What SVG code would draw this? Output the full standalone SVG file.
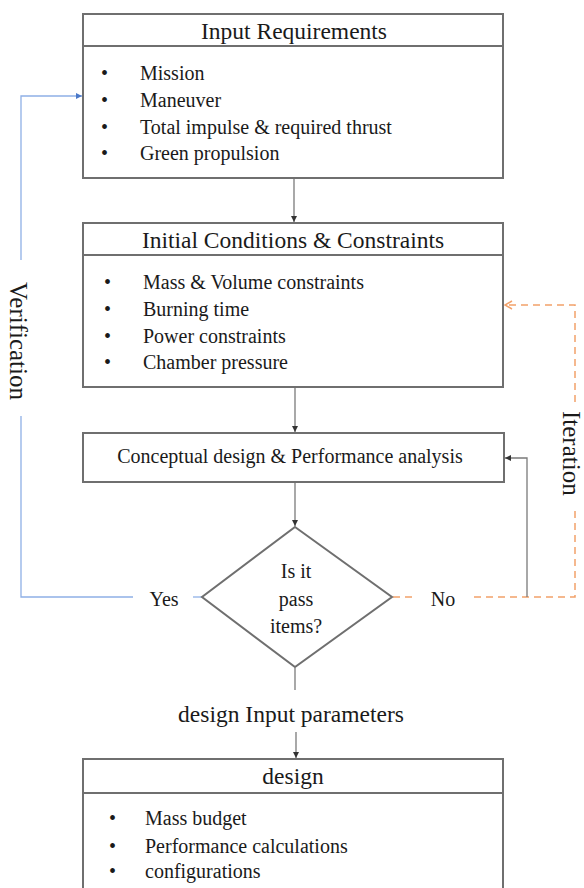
<svg xmlns="http://www.w3.org/2000/svg" width="584" height="888" viewBox="0 0 584 888">
  <style>
    .box { fill: #ffffff; stroke: #6f6f6f; stroke-width: 2; }
    .sep { stroke: #6f6f6f; stroke-width: 2; }
    text { font-family: "Liberation Serif", "Times New Roman", serif; fill: #1a1a1a; }
    .h { font-size: 23.5px; text-anchor: middle; }
    .li { font-size: 20px; }
    .mid { text-anchor: middle; }
    .side { font-size: 25px; }
    .flow { fill: none; stroke: #7a7a7a; stroke-width: 1.3; }
    .ver { fill: none; stroke: #8fb0e6; stroke-width: 1.3; }
    .itr { fill: none; stroke: #f2a16a; stroke-width: 1.5; stroke-dasharray: 7 5; }
    .itr-head { fill: none; stroke: #f2a16a; stroke-width: 1.5; }
  </style>
  <defs>
    <marker id="ah" markerWidth="8" markerHeight="8" refX="7" refY="4" orient="auto" markerUnits="userSpaceOnUse">
      <path d="M1,1 L7,4 L1,7 Z" fill="#333333"/>
    </marker>
    <marker id="ahb" markerWidth="8" markerHeight="8" refX="7" refY="4" orient="auto" markerUnits="userSpaceOnUse">
      <path d="M1,1 L7,4 L1,7 Z" fill="#4a78c8"/>
    </marker>
  </defs>

  <!-- connectors -->
  <g id="connectors">
    <line class="flow" x1="294" y1="179" x2="294" y2="222" marker-end="url(#ah)"/>
    <line class="flow" x1="295" y1="388" x2="295" y2="432" marker-end="url(#ah)"/>
    <line class="flow" x1="295" y1="483" x2="295" y2="526" marker-end="url(#ah)"/>
    <line class="flow" x1="295" y1="668" x2="295" y2="690"/>
    <line class="flow" x1="296" y1="732" x2="296" y2="758" marker-end="url(#ah)"/>

    <!-- verification loop -->
    <line class="ver" x1="193" y1="597" x2="202" y2="597"/>
    <polyline class="ver" points="133,597 21,597 21,416"/>
    <polyline class="ver" points="21,260 21,96 82,96" marker-end="url(#ahb)"/>

    <!-- iteration loop -->
    <line class="itr" x1="393" y1="597" x2="412" y2="597"/>
    <polyline class="itr" points="474,597 575,597 575,506"/>
    <polyline class="itr" points="575,402 575,305 507,305"/>
    <path class="itr-head" d="M512,301 L505,305 L512,309"/>
    <polyline class="flow" points="527,597 527,458 505,458" marker-end="url(#ah)"/>
  </g>

  <!-- Input Requirements -->
  <g id="input-requirements">
    <rect class="box" x="83" y="14" width="420" height="164"/>
    <line class="sep" x1="83" y1="46" x2="503" y2="46"/>
    <text class="h" x="294" y="39">Input Requirements</text>
    <g class="li">
      <text x="101" y="80">•</text><text x="140" y="80">Mission</text>
      <text x="101" y="107">•</text><text x="140" y="107">Maneuver</text>
      <text x="101" y="134">•</text><text x="140" y="134">Total impulse &amp; required thrust</text>
      <text x="101" y="160">•</text><text x="140" y="160">Green propulsion</text>
    </g>
  </g>

  <!-- Initial Conditions & Constraints -->
  <g id="initial-conditions">
    <rect class="box" x="83" y="223" width="420" height="164"/>
    <line class="sep" x1="83" y1="255" x2="503" y2="255"/>
    <text class="h" x="293" y="248">Initial Conditions &amp; Constraints</text>
    <g class="li">
      <text x="104" y="289">•</text><text x="143" y="289">Mass &amp; Volume constraints</text>
      <text x="104" y="316">•</text><text x="143" y="316">Burning time</text>
      <text x="104" y="343">•</text><text x="143" y="343">Power constraints</text>
      <text x="104" y="369">•</text><text x="143" y="369">Chamber pressure</text>
    </g>
  </g>

  <!-- Conceptual design -->
  <g id="conceptual-design">
    <rect class="box" x="83" y="433" width="421" height="49"/>
    <text class="li mid" x="290" y="463">Conceptual design &amp; Performance analysis</text>
  </g>

  <!-- Decision -->
  <g id="decision">
    <polygon class="box" points="295,527 392,597 295,667 202,597"/>
    <g class="li mid">
      <text x="296" y="578">Is it</text>
      <text x="296" y="606">pass</text>
      <text x="296" y="633">items?</text>
    </g>
  </g>

  <!-- Branch labels -->
  <g id="label-yes"><text class="li mid" x="164" y="606">Yes</text></g>
  <g id="label-no"><text class="li mid" x="443" y="606">No</text></g>
  <g id="label-verification">
    <text class="side" transform="translate(10,282) rotate(90)">Verification</text>
  </g>
  <g id="label-iteration">
    <text class="side" transform="translate(563,411) rotate(90)">Iteration</text>
  </g>
  <g id="label-design-input">
    <text class="h" x="291" y="722">design Input parameters</text>
  </g>

  <!-- design -->
  <g id="design">
    <rect class="box" x="83" y="759" width="420" height="140"/>
    <line class="sep" x1="83" y1="793" x2="503" y2="793"/>
    <text class="h" x="293" y="784">design</text>
    <g class="li">
      <text x="109" y="825">•</text><text x="145" y="825">Mass budget</text>
      <text x="109" y="853">•</text><text x="145" y="853">Performance calculations</text>
      <text x="109" y="878">•</text><text x="145" y="878">configurations</text>
    </g>
  </g>
</svg>
